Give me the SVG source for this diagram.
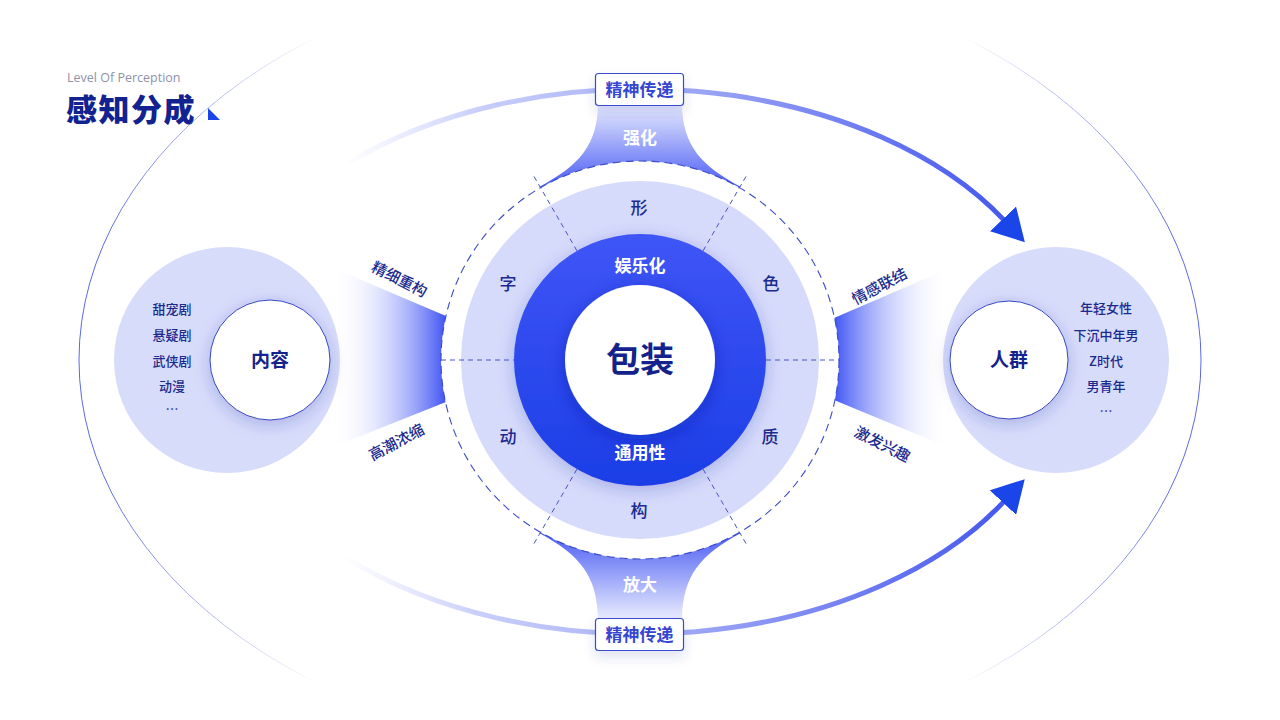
<svg xmlns="http://www.w3.org/2000/svg" width="1280" height="720" viewBox="0 0 1280 720">
<defs>
<style>
.cn{font-family:"Noto Sans CJK SC","Noto Sans",sans-serif;}
.navy{fill:#1b2a8e;}
.lbl{font-size:15px;font-weight:500;}
.list{font-size:13px;font-weight:500;text-anchor:middle;}
.ring{font-size:17px;font-weight:500;text-anchor:middle;}
.wht{fill:#ffffff;font-size:17px;font-weight:700;text-anchor:middle;}
.box{fill:#ffffff;stroke:#3a4cd0;stroke-width:1.2;}
.boxt{fill:#3446d2;font-size:17px;font-weight:700;text-anchor:middle;}
.dash{fill:none;stroke:#4656c8;stroke-width:1;stroke-dasharray:5 4;}
</style>
<linearGradient id="gEll" gradientUnits="userSpaceOnUse" x1="0" y1="0" x2="0" y2="720">
<stop offset="0.05" stop-color="#5b69e2" stop-opacity="0"/>
<stop offset="0.14" stop-color="#5b69e2" stop-opacity="0.45"/>
<stop offset="0.33" stop-color="#5b69e2" stop-opacity="1"/>
<stop offset="0.67" stop-color="#5b69e2" stop-opacity="1"/>
<stop offset="0.86" stop-color="#5b69e2" stop-opacity="0.45"/>
<stop offset="0.95" stop-color="#5b69e2" stop-opacity="0"/>
</linearGradient>
<linearGradient id="gArc" gradientUnits="userSpaceOnUse" x1="345" y1="0" x2="1005" y2="0">
<stop offset="0" stop-color="#cdd2fb" stop-opacity="0"/>
<stop offset="0.2" stop-color="#c3c9f9" stop-opacity="0.9"/>
<stop offset="0.5" stop-color="#a2abf5"/>
<stop offset="1" stop-color="#4658ee"/>
</linearGradient>
<linearGradient id="gTop" gradientUnits="userSpaceOnUse" x1="0" y1="105" x2="0" y2="190">
<stop offset="0" stop-color="#e8ebfe"/>
<stop offset="1" stop-color="#4457f3"/>
</linearGradient>
<linearGradient id="gBot" gradientUnits="userSpaceOnUse" x1="0" y1="618" x2="0" y2="530">
<stop offset="0" stop-color="#e8ebfe"/>
<stop offset="1" stop-color="#4457f3"/>
</linearGradient>
<linearGradient id="gLeft" gradientUnits="userSpaceOnUse" x1="333" y1="0" x2="446" y2="0">
<stop offset="0" stop-color="#ffffff" stop-opacity="0"/>
<stop offset="1" stop-color="#3f54f4"/>
</linearGradient>
<linearGradient id="gRight" gradientUnits="userSpaceOnUse" x1="834" y1="0" x2="950" y2="0">
<stop offset="0" stop-color="#3f54f4"/>
<stop offset="1" stop-color="#ffffff" stop-opacity="0"/>
</linearGradient>
<linearGradient id="gDark" x1="0" y1="0" x2="0" y2="1">
<stop offset="0" stop-color="#3f55f6"/>
<stop offset="1" stop-color="#1c3ee6"/>
</linearGradient>
<filter id="shSoft" x="-30%" y="-30%" width="160%" height="160%">
<feDropShadow dx="0" dy="4" stdDeviation="8" flood-color="#1a2aa0" flood-opacity="0.25"/>
</filter>
<filter id="shInner" x="-30%" y="-30%" width="160%" height="160%">
<feDropShadow dx="0" dy="5" stdDeviation="9" flood-color="#0c1a90" flood-opacity="0.35"/>
</filter>
<filter id="shBox" x="-30%" y="-40%" width="160%" height="200%">
<feDropShadow dx="0" dy="6" stdDeviation="6" flood-color="#2a3aa0" flood-opacity="0.15"/>
</filter>
<marker id="arrow" markerUnits="userSpaceOnUse" markerWidth="32" markerHeight="36" viewBox="0 0 32 36" refX="2" refY="18" orient="auto">
<path d="M0,0 L32,18 L0,36 Z" fill="#1a45e8"/>
</marker>
</defs>

<rect width="1280" height="720" fill="#ffffff"/>

<g id="title">
<text x="67" y="82" font-family="'Open Sans','Noto Sans',sans-serif" font-size="12.5" fill="#8e92a8">Level Of Perception</text>
<text class="cn" x="66" y="121" font-size="31" font-weight="900" letter-spacing="1.5" fill="#12238f">感知分成</text>
<polygon points="208,108 208,120 220,120" fill="#1a45e8"/>
</g>

<g id="outer-ellipse">
<ellipse cx="640" cy="360" rx="561" ry="395" fill="none" stroke="url(#gEll)" stroke-width="1"/>
</g>

<g id="connectors">
<path d="M598,105 C597,145 580,165 539.5,186.7 L640,320 L740.5,186.7 C700,165 683,145 682,105 Z" fill="url(#gTop)"/>
<path d="M598,618 C597,576 580,555 539.5,533.3 L640,400 L740.5,533.3 C700,555 683,576 682,618 Z" fill="url(#gBot)"/>
<path d="M333,268 L446,316 L580,360 L446,402 L333,447 Z" fill="url(#gLeft)"/>
<path d="M950,268 L834,318 L700,360 L834,400 L950,448 Z" fill="url(#gRight)"/>
<path d="M344.8,165.1 A425 271 0 0 1 1004.3,220.4" fill="none" stroke="url(#gArc)" stroke-width="5" marker-end="url(#arrow)"/>
<path d="M344.8,557.1 A425 274 0 0 0 1004.3,501.1" fill="none" stroke="url(#gArc)" stroke-width="5" marker-end="url(#arrow)"/>
<text class="cn wht" x="640" y="144">强化</text>
<text class="cn wht" x="640" y="591">放大</text>
<text class="cn navy lbl" text-anchor="middle" transform="translate(397,284) rotate(27)">精细重构</text>
<text class="cn navy lbl" text-anchor="middle" transform="translate(399,447) rotate(-28)">高潮浓缩</text>
<text class="cn navy lbl" text-anchor="middle" transform="translate(882,291) rotate(-28)">情感联结</text>
<text class="cn navy lbl" text-anchor="middle" transform="translate(880,449) rotate(27)">激发兴趣</text>
</g>

<g id="box-top">
<rect class="box" x="595.5" y="73.5" width="88" height="32" rx="3" filter="url(#shBox)"/>
<text class="cn boxt" x="639.5" y="95.5">精神传递</text>
</g>
<g id="box-bottom">
<rect class="box" x="595.5" y="618.5" width="88" height="32" rx="3" filter="url(#shBox)"/>
<text class="cn boxt" x="639.5" y="640.5">精神传递</text>
</g>

<g id="center">
<circle cx="640" cy="360" r="199" fill="#ffffff" stroke="#3a4bc5" stroke-width="1.1" stroke-dasharray="8 5"/>
<circle cx="640" cy="360" r="179" fill="#d6dafb"/>
<line class="dash" x1="441" y1="360" x2="514" y2="360"/>
<line class="dash" x1="766" y1="360" x2="839" y2="360"/>
<line class="dash" x1="577" y1="250.9" x2="534" y2="176.4"/>
<line class="dash" x1="703" y1="250.9" x2="746" y2="176.4"/>
<line class="dash" x1="577" y1="469.1" x2="534" y2="543.6"/>
<line class="dash" x1="703" y1="469.1" x2="746" y2="543.6"/>
<circle cx="640" cy="360" r="126" fill="url(#gDark)" filter="url(#shSoft)"/>
<circle cx="640" cy="360" r="75" fill="#ffffff" filter="url(#shInner)"/>
<text class="cn" x="640" y="372" font-size="34" font-weight="700" fill="#14238c" text-anchor="middle">包装</text>
<text class="cn wht" x="640" y="272">娱乐化</text>
<text class="cn wht" x="640" y="459">通用性</text>
<text class="cn navy ring" x="639" y="214">形</text>
<text class="cn navy ring" x="508" y="290">字</text>
<text class="cn navy ring" x="771" y="290">色</text>
<text class="cn navy ring" x="508" y="443">动</text>
<text class="cn navy ring" x="770" y="443">质</text>
<text class="cn navy ring" x="639" y="517">构</text>
</g>

<g id="node-content">
<circle cx="227" cy="360" r="113" fill="#d8dcfb"/>
<circle cx="270" cy="360" r="60" fill="#ffffff" stroke="#3646c0" stroke-width="1" filter="url(#shSoft)"/>
<text class="cn" x="270" y="367" font-size="19" font-weight="700" fill="#14238c" text-anchor="middle">内容</text>
<text class="cn navy list" x="172" y="314">甜宠剧</text>
<text class="cn navy list" x="172" y="340">悬疑剧</text>
<text class="cn navy list" x="172" y="366">武侠剧</text>
<text class="cn navy list" x="172" y="391">动漫</text>
<text class="cn navy list" x="172" y="414">…</text>
</g>

<g id="node-people">
<circle cx="1056" cy="360" r="113" fill="#d8dcfb"/>
<circle cx="1009" cy="360" r="59" fill="#ffffff" stroke="#3646c0" stroke-width="1" filter="url(#shSoft)"/>
<text class="cn" x="1009" y="367" font-size="19" font-weight="700" fill="#14238c" text-anchor="middle">人群</text>
<text class="cn navy list" x="1106" y="313">年轻女性</text>
<text class="cn navy list" x="1106" y="340">下沉中年男</text>
<text class="cn navy list" x="1106" y="366">Z时代</text>
<text class="cn navy list" x="1106" y="391">男青年</text>
<text class="cn navy list" x="1106" y="416">…</text>
</g>
</svg>
